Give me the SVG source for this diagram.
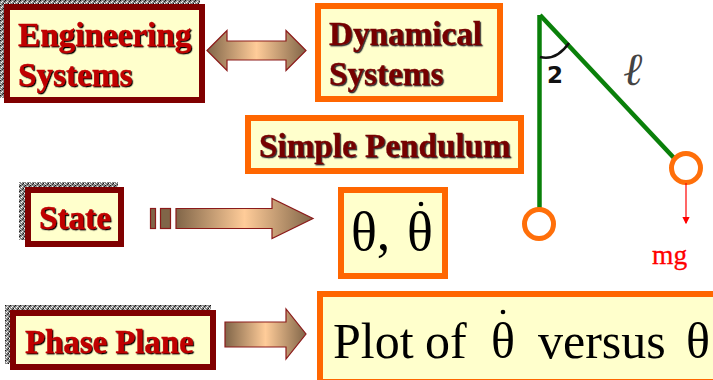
<svg xmlns="http://www.w3.org/2000/svg" width="713" height="380" viewBox="0 0 713 380">
<style>
.dk{fill:#ffffcc;stroke:#800000;stroke-width:6}
.or{fill:#ffffcc;stroke:#ff6600;stroke-width:6}
.t{font-family:"Liberation Serif",serif;font-weight:bold;font-size:33.2px;stroke-width:.35px}
.red{fill:#c00000;stroke:#c00000;filter:url(#sb)}
.mar{fill:#760000;stroke:#760000;filter:url(#sg)}
.m{font-family:"Liberation Serif",serif;fill:#000}
.shd{fill:url(#spk)}
.ar{stroke:#8b1a1a;stroke-width:1.2}
.rod{stroke:#0a800a;stroke-width:4.5;fill:none}
.bob{fill:#fff;stroke:#ff6f0a;stroke-width:5}
</style>
<defs>
<pattern id="spk" width="5" height="5" patternUnits="userSpaceOnUse">
<rect width="5" height="5" fill="#8a8a8a"/>
<rect x="0" y="0" width="1" height="1" fill="#111"/><rect x="2" y="1" width="1" height="1" fill="#eee"/>
<rect x="4" y="1" width="1" height="1" fill="#222"/><rect x="1" y="2" width="1" height="1" fill="#fff"/>
<rect x="3" y="3" width="1" height="1" fill="#111"/><rect x="0" y="4" width="1" height="1" fill="#ddd"/>
<rect x="2" y="4" width="1" height="1" fill="#333"/><rect x="4" y="3" width="1" height="1" fill="#fff"/>
</pattern>
<filter id="sb" x="-5%" y="-5%" width="110%" height="115%"><feDropShadow dx="1.200" dy="1.200" stdDeviation="0.3" flood-color="#000"/></filter>
<filter id="sg" x="-5%" y="-5%" width="110%" height="115%"><feDropShadow dx="1.200" dy="1.200" stdDeviation="0.4" flood-color="#333"/></filter>
<linearGradient id="g"><stop offset="0" stop-color="#806548"/><stop offset=".5" stop-color="#ffcc99"/><stop offset="1" stop-color="#806548"/></linearGradient>
<marker id="ah" markerWidth="6" markerHeight="6" refX="5" refY="3" orient="auto"><path d="M0 0L6 3L0 6Z" fill="#ff0000"/></marker>
</defs>

<g id="connectors">
<path class="ar" fill="url(#g)" d="M207 50.500L227 30.500V41H286V30.500L306 50.500L286 70.500V60H227V70.500Z"/>
<g id="state-arrow">
<rect class="ar" x="150.500" y="208.500" width="5" height="20" fill="#806548"/>
<rect class="ar" x="160.500" y="208.500" width="10" height="20" fill="#806548"/>
<path class="ar" fill="url(#g)" d="M176 208.500H272V198.500L313 218.500L272 238.500V228.500H176Z"/>
</g>
<path class="ar" fill="url(#g)" d="M225 322H286V309L306 334L286 359V347H225Z"/>
</g>

<g id="engineering-systems">
<rect class="shd" x="0" y="0" width="200" height="98"/>
<rect class="dk" x="7" y="7" width="195" height="93"/>
<text class="t red" x="18" y="46">Engineering</text>
<text class="t red" x="18" y="86">Systems</text>
</g>

<g id="dynamical-systems">
<rect class="or" x="318" y="6" width="182" height="93"/>
<text class="t mar" x="329" y="45">Dynamical</text>
<text class="t mar" x="329" y="85">Systems</text>
</g>

<g id="simple-pendulum">
<rect class="or" x="248" y="118" width="273" height="53"/>
<text class="t mar" x="259" y="157">Simple Pendulum</text>
</g>

<g id="state">
<rect class="shd" x="19" y="182" width="99" height="58"/>
<rect class="dk" x="28" y="190" width="93" height="54"/>
<text class="t red" x="39" y="229">State</text>
</g>

<g id="theta-box">
<rect class="or" x="341" y="190" width="104" height="86"/>
<text class="m" x="351" y="250" font-size="54">θ,</text>
<text class="m" x="407" y="250" font-size="54">θ</text>
<circle cx="421" cy="204" r="2.300" fill="#000"/>
</g>

<g id="phase-plane">
<rect class="shd" x="5" y="305" width="206" height="59"/>
<rect class="dk" x="13" y="313" width="200" height="54"/>
<text class="t red" x="25" y="353" style="font-size:32.8px">Phase Plane</text>
</g>

<g id="plot-box">
<rect class="or" x="320" y="294" width="420" height="88"/>
<text class="m" x="333" y="358" font-size="50">Plot</text>
<text class="m" x="425" y="358" font-size="50">of</text>
<text class="m" x="491" y="358" font-size="50">θ</text>
<circle cx="503" cy="312" r="2.300" fill="#000"/>
<text class="m" x="538" y="358" font-size="50">versus</text>
<text class="m" x="686" y="358" font-size="50">θ</text>
</g>

<g id="pendulum">
<path class="rod" d="M539.500 15V209"/>
<path class="rod" d="M540 15L674 158"/>
<path d="M540 57C552 60 562 53 569 43" fill="none" stroke="#111" stroke-width="2.500"/>
<text x="547" y="83" font-family="'DejaVu Sans',sans-serif" font-weight="bold" font-size="23" fill="#111">2</text>
<text x="623" y="85" font-family="'Liberation Serif',serif" font-style="italic" font-size="46" fill="#444">ℓ</text>
<circle class="bob" cx="539" cy="224" r="14.500"/>
<circle class="bob" cx="686" cy="168" r="14.500"/>
<path d="M686 183V223" stroke="#ff0000" stroke-width="1.200" marker-end="url(#ah)" fill="none"/>
<text x="652" y="264" font-family="'Liberation Serif',serif" font-size="27.500" fill="#ff0000" stroke="#ff0000" stroke-width=".3">mg</text>
</g>
</svg>
